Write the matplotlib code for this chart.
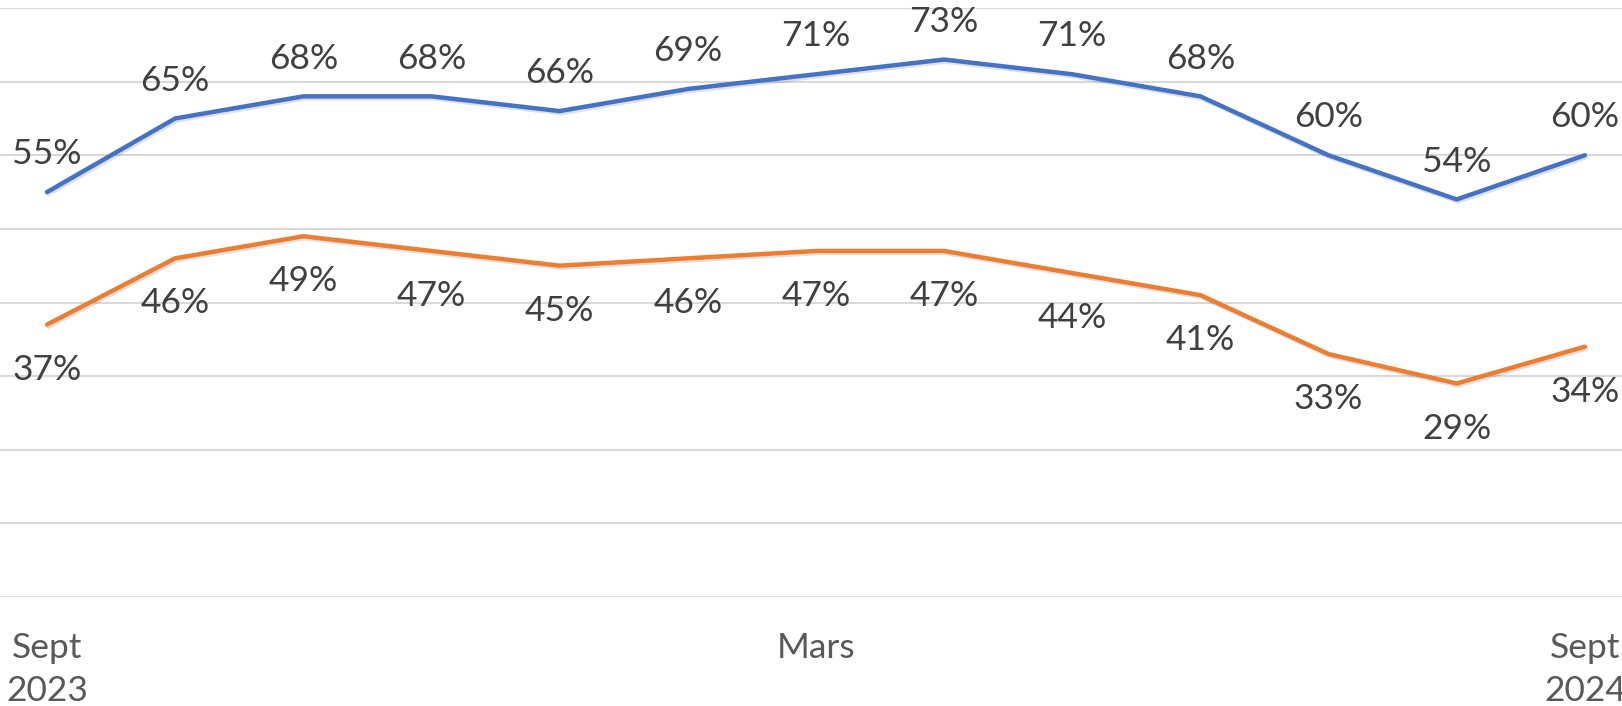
import matplotlib.pyplot as plt
import matplotlib.patheffects as pe

# Monthly shares, Sept 2023 -> Sept 2024
months = list(range(13))
serie_haut = [55, 65, 68, 68, 66, 69, 71, 73, 71, 68, 60, 54, 60]
serie_bas = [37, 46, 49, 47, 45, 46, 47, 47, 44, 41, 33, 29, 34]
tick_pos = [0, 6, 12]
tick_labels = ['Sept\n2023', 'Mars', 'Sept\n2024']

plt.rcParams['font.family'] = ['Lato', 'DejaVu Sans']

W, H = 1622, 706
fig = plt.figure(figsize=(W / 100, H / 100), dpi=100)
ax = fig.add_axes([0, 109 / H, 1, 589 / H])

shadow = [pe.SimpleLineShadow(offset=(1, -1.5), shadow_color='black', alpha=0.12), pe.Normal()]
ax.plot(months, serie_haut, color='#4472C4', lw=3.2, solid_capstyle='round',
        path_effects=shadow, zorder=3)
ax.plot(months, serie_bas, color='#ED7D31', lw=3.2, solid_capstyle='round',
        path_effects=shadow, zorder=3)

for x, v in zip(months, serie_haut):
    ax.annotate(f'{v}%', (x, v), xytext=(0, 20), textcoords='offset points',
                ha='center', va='baseline', fontsize=25.5, color='#404040',
                annotation_clip=False)
for x, v in zip(months, serie_bas):
    ax.annotate(f'{v}%', (x, v), xytext=(0, -21), textcoords='offset points',
                ha='center', va='top', fontsize=25.5, color='#404040',
                annotation_clip=False)

ax.set_xlim(-0.367, 12.29)
ax.set_ylim(0, 80)
ax.set_yticks(range(0, 81, 10))
ax.grid(axis='y', color='#D9D9D9', lw=1.5)
ax.set_axisbelow(True)
ax.set_xticks(tick_pos)
ax.set_xticklabels(tick_labels, fontsize=25.5, color='#595959', linespacing=1.45)
ax.tick_params(axis='x', length=0, pad=25)
ax.tick_params(axis='y', length=0, labelleft=False)
for s in ax.spines.values():
    s.set_visible(False)

fig.savefig('out.png', dpi=100)
